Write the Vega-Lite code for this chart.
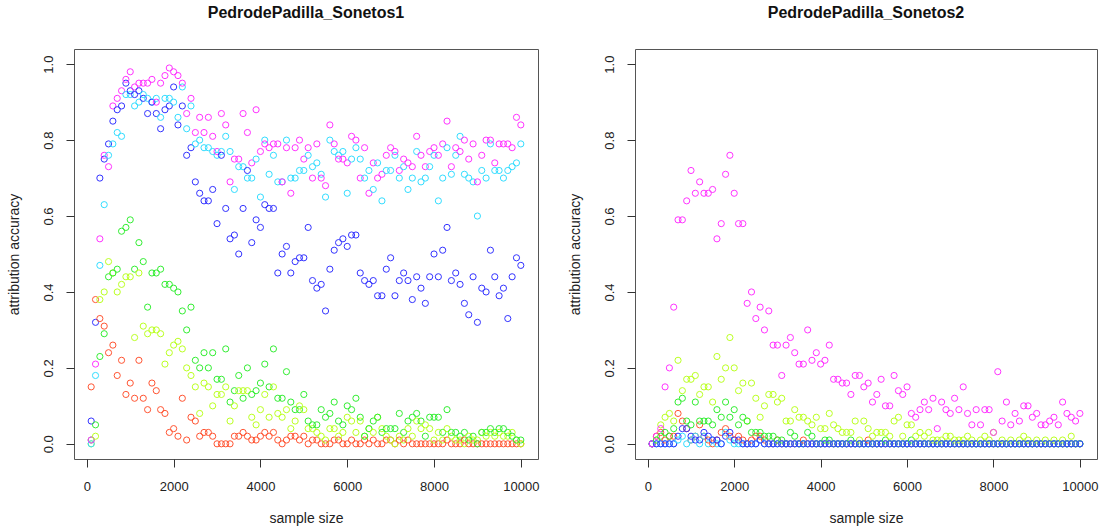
{
"$schema": "https://vega.github.io/schema/vega-lite/v6.json",
"background": "white",
"padding": {"left": 6, "top": 4, "right": 0, "bottom": 0},
"config": {
 "font": "Liberation Sans",
 "view": {"stroke": "#555", "strokeWidth": 1},
 "axis": {"grid": false, "domain": false, "tickColor": "#333", "tickSize": 8, "labelFontSize": 13, "labelColor": "#222", "titleFontSize": 14, "titleFontWeight": "normal", "titleColor": "#222", "labelFont": "Liberation Sans", "titleFont": "Liberation Sans"},
 "title": {"fontSize": 16, "fontWeight": "bold", "font": "Liberation Sans", "color": "#111", "offset": 28},
 "concat": {"spacing": 27}
},
"data": {"values": [
{"p":1,"n":100,"r":0.15,"y":0,"g":0.01,"c":0,"b":0.06,"m":0.01},
{"p":1,"n":200,"r":0.38,"y":0.02,"g":0.05,"c":0.18,"b":0.32,"m":0.21},
{"p":1,"n":300,"r":0.33,"y":0.38,"g":0.23,"c":0.47,"b":0.70,"m":0.54},
{"p":1,"n":400,"r":0.31,"y":0.40,"g":0.29,"c":0.63,"b":0.75,"m":0.76},
{"p":1,"n":500,"r":0.24,"y":0.48,"g":0.44,"c":0.76,"b":0.79,"m":0.73},
{"p":1,"n":600,"r":0.26,"y":0.45,"g":0.45,"c":0.79,"b":0.85,"m":0.89},
{"p":1,"n":700,"r":0.18,"y":0.40,"g":0.46,"c":0.82,"b":0.88,"m":0.91},
{"p":1,"n":800,"r":0.22,"y":0.42,"g":0.56,"c":0.81,"b":0.89,"m":0.93},
{"p":1,"n":900,"r":0.13,"y":0.44,"g":0.57,"c":0.92,"b":0.95,"m":0.96},
{"p":1,"n":1000,"r":0.16,"y":0.44,"g":0.59,"c":0.92,"b":0.93,"m":0.98},
{"p":1,"n":1100,"r":0.12,"y":0.28,"g":0.46,"c":0.89,"b":0.92,"m":0.94},
{"p":1,"n":1200,"r":0.22,"y":0.45,"g":0.53,"c":0.90,"b":0.93,"m":0.95},
{"p":1,"n":1300,"r":0.12,"y":0.31,"g":0.48,"c":0.92,"b":0.91,"m":0.95},
{"p":1,"n":1400,"r":0.09,"y":0.29,"g":0.36,"c":0.91,"b":0.87,"m":0.95},
{"p":1,"n":1500,"r":0.16,"y":0.30,"g":0.45,"c":0.90,"b":0.90,"m":0.96},
{"p":1,"n":1600,"r":0.14,"y":0.30,"g":0.45,"c":0.91,"b":0.87,"m":0.90},
{"p":1,"n":1700,"r":0.09,"y":0.29,"g":0.46,"c":0.86,"b":0.83,"m":0.95},
{"p":1,"n":1800,"r":0.08,"y":0.21,"g":0.42,"c":0.91,"b":0.88,"m":0.97},
{"p":1,"n":1900,"r":0.03,"y":0.24,"g":0.42,"c":0.91,"b":0.89,"m":0.99},
{"p":1,"n":2000,"r":0.04,"y":0.26,"g":0.41,"c":0.90,"b":0.94,"m":0.98},
{"p":1,"n":2100,"r":0.02,"y":0.27,"g":0.40,"c":0.86,"b":0.84,"m":0.97},
{"p":1,"n":2200,"r":0.12,"y":0.25,"g":0.35,"c":0.94,"b":0.89,"m":0.95},
{"p":1,"n":2300,"r":0.01,"y":0.20,"g":0.30,"c":0.83,"b":0.76,"m":0.87},
{"p":1,"n":2400,"r":0.07,"y":0.18,"g":0.36,"c":0.89,"b":0.78,"m":0.91},
{"p":1,"n":2500,"r":0.06,"y":0.15,"g":0.22,"c":0.79,"b":0.69,"m":0.82},
{"p":1,"n":2600,"r":0.02,"y":0.08,"g":0.20,"c":0.80,"b":0.66,"m":0.86},
{"p":1,"n":2700,"r":0.03,"y":0.16,"g":0.24,"c":0.78,"b":0.64,"m":0.82},
{"p":1,"n":2800,"r":0.03,"y":0.15,"g":0.20,"c":0.78,"b":0.64,"m":0.86},
{"p":1,"n":2900,"r":0.02,"y":0.10,"g":0.24,"c":0.77,"b":0.67,"m":0.81},
{"p":1,"n":3000,"r":0,"y":0.13,"g":0.17,"c":0.76,"b":0.58,"m":0.77},
{"p":1,"n":3100,"r":0,"y":0.13,"g":0.17,"c":0.77,"b":0.76,"m":0.87},
{"p":1,"n":3200,"r":0,"y":0.15,"g":0.25,"c":0.81,"b":0.62,"m":0.84},
{"p":1,"n":3300,"r":0,"y":0.06,"g":0.11,"c":0.77,"b":0.54,"m":0.69},
{"p":1,"n":3400,"r":0.02,"y":0.10,"g":0.14,"c":0.67,"b":0.55,"m":0.75},
{"p":1,"n":3500,"r":0.02,"y":0.14,"g":0.18,"c":0.73,"b":0.50,"m":0.75},
{"p":1,"n":3600,"r":0.03,"y":0.14,"g":0.12,"c":0.73,"b":0.62,"m":0.87},
{"p":1,"n":3700,"r":0.02,"y":0.14,"g":0.20,"c":0.70,"b":0.72,"m":0.82},
{"p":1,"n":3800,"r":0.01,"y":0.07,"g":0.13,"c":0.70,"b":0.53,"m":0.74},
{"p":1,"n":3900,"r":0.01,"y":0.05,"g":0.14,"c":0.75,"b":0.59,"m":0.88},
{"p":1,"n":4000,"r":0.02,"y":0.09,"g":0.16,"c":0.65,"b":0.57,"m":0.77},
{"p":1,"n":4100,"r":0.03,"y":0.13,"g":0.21,"c":0.80,"b":0.63,"m":0.79},
{"p":1,"n":4200,"r":0.02,"y":0.07,"g":0.15,"c":0.71,"b":0.62,"m":0.78},
{"p":1,"n":4300,"r":0.03,"y":0.15,"g":0.25,"c":0.76,"b":0.62,"m":0.79},
{"p":1,"n":4400,"r":0.01,"y":0.08,"g":0.12,"c":0.69,"b":0.45,"m":0.79},
{"p":1,"n":4500,"r":0,"y":0.07,"g":0.12,"c":0.69,"b":0.50,"m":0.69},
{"p":1,"n":4600,"r":0.01,"y":0.09,"g":0.19,"c":0.80,"b":0.52,"m":0.78},
{"p":1,"n":4700,"r":0.02,"y":0.04,"g":0.11,"c":0.70,"b":0.45,"m":0.66},
{"p":1,"n":4800,"r":0.02,"y":0.06,"g":0.09,"c":0.70,"b":0.48,"m":0.78},
{"p":1,"n":4900,"r":0.01,"y":0.10,"g":0.09,"c":0.72,"b":0.49,"m":0.80},
{"p":1,"n":5000,"r":0.02,"y":0.09,"g":0.13,"c":0.72,"b":0.49,"m":0.75},
{"p":1,"n":5100,"r":0,"y":0.04,"g":0.06,"c":0.76,"b":0.57,"m":0.78},
{"p":1,"n":5200,"r":0.01,"y":0.04,"g":0.05,"c":0.73,"b":0.43,"m":0.70},
{"p":1,"n":5300,"r":0.01,"y":0.03,"g":0.05,"c":0.74,"b":0.41,"m":0.79},
{"p":1,"n":5400,"r":0,"y":0.02,"g":0.09,"c":0.71,"b":0.42,"m":0.70},
{"p":1,"n":5500,"r":0,"y":0.01,"g":0.07,"c":0.65,"b":0.35,"m":0.68},
{"p":1,"n":5600,"r":0,"y":0.04,"g":0.08,"c":0.80,"b":0.46,"m":0.84},
{"p":1,"n":5700,"r":0.01,"y":0.04,"g":0.11,"c":0.77,"b":0.51,"m":0.79},
{"p":1,"n":5800,"r":0.01,"y":0.02,"g":0.06,"c":0.76,"b":0.53,"m":0.75},
{"p":1,"n":5900,"r":0,"y":0.03,"g":0.05,"c":0.77,"b":0.54,"m":0.75},
{"p":1,"n":6000,"r":0,"y":0.07,"g":0.10,"c":0.66,"b":0.52,"m":0.74},
{"p":1,"n":6100,"r":0.01,"y":0.06,"g":0.09,"c":0.75,"b":0.55,"m":0.81},
{"p":1,"n":6200,"r":0,"y":0.03,"g":0.12,"c":0.78,"b":0.55,"m":0.80},
{"p":1,"n":6300,"r":0,"y":0.06,"g":0.07,"c":0.75,"b":0.45,"m":0.70},
{"p":1,"n":6400,"r":0.01,"y":0.02,"g":0.02,"c":0.70,"b":0.43,"m":0.78},
{"p":1,"n":6500,"r":0,"y":0.04,"g":0.04,"c":0.72,"b":0.42,"m":0.66},
{"p":1,"n":6600,"r":0.01,"y":0.03,"g":0.06,"c":0.67,"b":0.43,"m":0.74},
{"p":1,"n":6700,"r":0,"y":0.07,"g":0.07,"c":0.74,"b":0.39,"m":0.70},
{"p":1,"n":6800,"r":0,"y":0.04,"g":0.03,"c":0.64,"b":0.39,"m":0.71},
{"p":1,"n":6900,"r":0.01,"y":0.02,"g":0.04,"c":0.72,"b":0.46,"m":0.76},
{"p":1,"n":7000,"r":0.01,"y":0.01,"g":0.04,"c":0.72,"b":0.49,"m":0.78},
{"p":1,"n":7100,"r":0,"y":0,"g":0.04,"c":0.76,"b":0.39,"m":0.77},
{"p":1,"n":7200,"r":0.01,"y":0.02,"g":0.08,"c":0.70,"b":0.43,"m":0.72},
{"p":1,"n":7300,"r":0,"y":0.01,"g":0.03,"c":0.73,"b":0.45,"m":0.75},
{"p":1,"n":7400,"r":0.01,"y":0.04,"g":0.06,"c":0.67,"b":0.43,"m":0.74},
{"p":1,"n":7500,"r":0,"y":0.02,"g":0.07,"c":0.70,"b":0.38,"m":0.73},
{"p":1,"n":7600,"r":0,"y":0.06,"g":0.08,"c":0.77,"b":0.44,"m":0.81},
{"p":1,"n":7700,"r":0,"y":0.04,"g":0.06,"c":0.69,"b":0.41,"m":0.76},
{"p":1,"n":7800,"r":0,"y":0.05,"g":0.02,"c":0.70,"b":0.37,"m":0.73},
{"p":1,"n":7900,"r":0,"y":0.04,"g":0.07,"c":0.73,"b":0.44,"m":0.77},
{"p":1,"n":8000,"r":0,"y":0.01,"g":0.07,"c":0.76,"b":0.50,"m":0.78},
{"p":1,"n":8100,"r":0,"y":0.03,"g":0.07,"c":0.64,"b":0.44,"m":0.76},
{"p":1,"n":8200,"r":0,"y":0.01,"g":0.03,"c":0.70,"b":0.51,"m":0.79},
{"p":1,"n":8300,"r":0.01,"y":0.04,"g":0.09,"c":0.78,"b":0.57,"m":0.85},
{"p":1,"n":8400,"r":0,"y":0.02,"g":0.03,"c":0.71,"b":0.43,"m":0.73},
{"p":1,"n":8500,"r":0,"y":0.01,"g":0.03,"c":0.76,"b":0.45,"m":0.78},
{"p":1,"n":8600,"r":0,"y":0.01,"g":0.02,"c":0.81,"b":0.42,"m":0.77},
{"p":1,"n":8700,"r":0.01,"y":0,"g":0.03,"c":0.71,"b":0.37,"m":0.80},
{"p":1,"n":8800,"r":0,"y":0.02,"g":0.01,"c":0.70,"b":0.34,"m":0.75},
{"p":1,"n":8900,"r":0,"y":0.01,"g":0.02,"c":0.69,"b":0.44,"m":0.79},
{"p":1,"n":9000,"r":0,"y":0.01,"g":0,"c":0.60,"b":0.32,"m":0.69},
{"p":1,"n":9100,"r":0,"y":0.03,"g":0.03,"c":0.72,"b":0.41,"m":0.76},
{"p":1,"n":9200,"r":0,"y":0.02,"g":0.03,"c":0.70,"b":0.40,"m":0.80},
{"p":1,"n":9300,"r":0,"y":0.03,"g":0.04,"c":0.79,"b":0.51,"m":0.80},
{"p":1,"n":9400,"r":0,"y":0.02,"g":0.03,"c":0.72,"b":0.44,"m":0.74},
{"p":1,"n":9500,"r":0,"y":0.03,"g":0.04,"c":0.72,"b":0.39,"m":0.79},
{"p":1,"n":9600,"r":0,"y":0.02,"g":0.04,"c":0.70,"b":0.41,"m":0.79},
{"p":1,"n":9700,"r":0,"y":0.02,"g":0.03,"c":0.72,"b":0.33,"m":0.79},
{"p":1,"n":9800,"r":0,"y":0.03,"g":0.02,"c":0.73,"b":0.44,"m":0.78},
{"p":1,"n":9900,"r":0,"y":0.01,"g":0.01,"c":0.74,"b":0.49,"m":0.86},
{"p":1,"n":10000,"r":0,"y":0,"g":0.01,"c":0.79,"b":0.47,"m":0.84},
{"p":2,"n":100,"r":0,"y":0,"g":0,"c":0,"b":0,"m":0},
{"p":2,"n":200,"r":0.02,"y":0.01,"g":0.01,"c":0,"b":0,"m":0.02},
{"p":2,"n":300,"r":0.03,"y":0.05,"g":0.02,"c":0,"b":0,"m":0.04},
{"p":2,"n":400,"r":0.01,"y":0.07,"g":0.03,"c":0,"b":0,"m":0.15},
{"p":2,"n":500,"r":0.02,"y":0.08,"g":0.02,"c":0,"b":0,"m":0.20},
{"p":2,"n":600,"r":0.02,"y":0.06,"g":0.04,"c":0,"b":0,"m":0.36},
{"p":2,"n":700,"r":0.08,"y":0.22,"g":0.11,"c":0.01,"b":0.02,"m":0.59},
{"p":2,"n":800,"r":0.06,"y":0.14,"g":0.12,"c":0.02,"b":0.04,"m":0.59},
{"p":2,"n":900,"r":0.04,"y":0.17,"g":0.06,"c":0,"b":0.04,"m":0.64},
{"p":2,"n":1000,"r":0.01,"y":0.17,"g":0.05,"c":0.01,"b":0.02,"m":0.72},
{"p":2,"n":1100,"r":0.02,"y":0.18,"g":0.11,"c":0.02,"b":0.01,"m":0.66},
{"p":2,"n":1200,"r":0.05,"y":0.13,"g":0.06,"c":0,"b":0.01,"m":0.69},
{"p":2,"n":1300,"r":0.02,"y":0.15,"g":0.06,"c":0.02,"b":0.03,"m":0.66},
{"p":2,"n":1400,"r":0.01,"y":0.15,"g":0.06,"c":0,"b":0.02,"m":0.66},
{"p":2,"n":1500,"r":0,"y":0.11,"g":0.05,"c":0.01,"b":0.01,"m":0.67},
{"p":2,"n":1600,"r":0.01,"y":0.23,"g":0.09,"c":0,"b":0.01,"m":0.54},
{"p":2,"n":1700,"r":0.03,"y":0.17,"g":0.07,"c":0,"b":0,"m":0.58},
{"p":2,"n":1800,"r":0.04,"y":0.20,"g":0.11,"c":0.03,"b":0.02,"m":0.71},
{"p":2,"n":1900,"r":0.02,"y":0.28,"g":0.07,"c":0.01,"b":0.03,"m":0.76},
{"p":2,"n":2000,"r":0.01,"y":0.20,"g":0.09,"c":0,"b":0.01,"m":0.66},
{"p":2,"n":2100,"r":0.02,"y":0.14,"g":0.05,"c":0,"b":0.01,"m":0.58},
{"p":2,"n":2200,"r":0.01,"y":0.16,"g":0.07,"c":0,"b":0,"m":0.58},
{"p":2,"n":2300,"r":0,"y":0.06,"g":0.06,"c":0,"b":0,"m":0.37},
{"p":2,"n":2400,"r":0.01,"y":0.16,"g":0.03,"c":0,"b":0,"m":0.40},
{"p":2,"n":2500,"r":0.02,"y":0.12,"g":0.03,"c":0,"b":0,"m":0.33},
{"p":2,"n":2600,"r":0.02,"y":0.07,"g":0.03,"c":0.01,"b":0.01,"m":0.36},
{"p":2,"n":2700,"r":0.01,"y":0.10,"g":0.02,"c":0,"b":0,"m":0.30},
{"p":2,"n":2800,"r":0,"y":0.13,"g":0.02,"c":0,"b":0,"m":0.35},
{"p":2,"n":2900,"r":0,"y":0.13,"g":0.02,"c":0,"b":0,"m":0.26},
{"p":2,"n":3000,"r":0.01,"y":0.11,"g":0.01,"c":0,"b":0,"m":0.26},
{"p":2,"n":3100,"r":0,"y":0.12,"g":0.01,"c":0,"b":0,"m":0.18},
{"p":2,"n":3200,"r":0,"y":0.06,"g":0,"c":0,"b":0,"m":0.26},
{"p":2,"n":3300,"r":0,"y":0.06,"g":0.03,"c":0,"b":0,"m":0.28},
{"p":2,"n":3400,"r":0,"y":0.09,"g":0.02,"c":0,"b":0,"m":0.24},
{"p":2,"n":3500,"r":0,"y":0.07,"g":0,"c":0,"b":0,"m":0.21},
{"p":2,"n":3600,"r":0.01,"y":0.07,"g":0,"c":0,"b":0,"m":0.21},
{"p":2,"n":3700,"r":0,"y":0.06,"g":0.03,"c":0,"b":0,"m":0.30},
{"p":2,"n":3800,"r":0,"y":0.05,"g":0.02,"c":0,"b":0,"m":0.22},
{"p":2,"n":3900,"r":0,"y":0.07,"g":0,"c":0,"b":0,"m":0.24},
{"p":2,"n":4000,"r":0,"y":0.04,"g":0,"c":0,"b":0,"m":0.21},
{"p":2,"n":4100,"r":0,"y":0.04,"g":0.01,"c":0,"b":0,"m":0.22},
{"p":2,"n":4200,"r":0,"y":0.08,"g":0.01,"c":0,"b":0,"m":0.26},
{"p":2,"n":4300,"r":0,"y":0.05,"g":0,"c":0,"b":0,"m":0.17},
{"p":2,"n":4400,"r":0,"y":0.04,"g":0,"c":0,"b":0,"m":0.17},
{"p":2,"n":4500,"r":0,"y":0.03,"g":0,"c":0,"b":0,"m":0.16},
{"p":2,"n":4600,"r":0,"y":0.03,"g":0,"c":0,"b":0,"m":0.16},
{"p":2,"n":4700,"r":0,"y":0.03,"g":0.01,"c":0,"b":0,"m":0.13},
{"p":2,"n":4800,"r":0,"y":0.06,"g":0,"c":0,"b":0,"m":0.18},
{"p":2,"n":4900,"r":0,"y":0.01,"g":0,"c":0,"b":0,"m":0.18},
{"p":2,"n":5000,"r":0,"y":0.06,"g":0,"c":0,"b":0,"m":0.15},
{"p":2,"n":5100,"r":0.01,"y":0.04,"g":0,"c":0,"b":0,"m":0.16},
{"p":2,"n":5200,"r":0,"y":0.02,"g":0,"c":0,"b":0,"m":0.11},
{"p":2,"n":5300,"r":0,"y":0.03,"g":0,"c":0,"b":0,"m":0.13},
{"p":2,"n":5400,"r":0,"y":0.03,"g":0,"c":0,"b":0,"m":0.17},
{"p":2,"n":5500,"r":0,"y":0.03,"g":0.01,"c":0,"b":0,"m":0.10},
{"p":2,"n":5600,"r":0,"y":0.02,"g":0,"c":0,"b":0,"m":0.10},
{"p":2,"n":5700,"r":0,"y":0.06,"g":0,"c":0,"b":0,"m":0.18},
{"p":2,"n":5800,"r":0,"y":0.07,"g":0,"c":0,"b":0,"m":0.14},
{"p":2,"n":5900,"r":0,"y":0.02,"g":0,"c":0,"b":0,"m":0.13},
{"p":2,"n":6000,"r":0,"y":0.05,"g":0,"c":0,"b":0,"m":0.15},
{"p":2,"n":6100,"r":0,"y":0.05,"g":0.01,"c":0,"b":0,"m":0.08},
{"p":2,"n":6200,"r":0,"y":0.02,"g":0,"c":0,"b":0,"m":0.07},
{"p":2,"n":6300,"r":0,"y":0.03,"g":0,"c":0,"b":0,"m":0.09},
{"p":2,"n":6400,"r":0,"y":0.02,"g":0,"c":0,"b":0,"m":0.11},
{"p":2,"n":6500,"r":0,"y":0.03,"g":0,"c":0,"b":0,"m":0.09},
{"p":2,"n":6600,"r":0,"y":0.01,"g":0,"c":0,"b":0,"m":0.12},
{"p":2,"n":6700,"r":0,"y":0.01,"g":0,"c":0,"b":0,"m":0.04},
{"p":2,"n":6800,"r":0,"y":0.01,"g":0,"c":0,"b":0,"m":0.11},
{"p":2,"n":6900,"r":0,"y":0.02,"g":0,"c":0,"b":0,"m":0.09},
{"p":2,"n":7000,"r":0,"y":0.02,"g":0,"c":0,"b":0,"m":0.08},
{"p":2,"n":7100,"r":0,"y":0.01,"g":0,"c":0,"b":0,"m":0.12},
{"p":2,"n":7200,"r":0,"y":0.01,"g":0,"c":0,"b":0,"m":0.09},
{"p":2,"n":7300,"r":0,"y":0.01,"g":0,"c":0,"b":0,"m":0.15},
{"p":2,"n":7400,"r":0,"y":0.02,"g":0,"c":0,"b":0,"m":0.08},
{"p":2,"n":7500,"r":0,"y":0.01,"g":0,"c":0,"b":0,"m":0.05},
{"p":2,"n":7600,"r":0,"y":0,"g":0,"c":0,"b":0,"m":0.09},
{"p":2,"n":7700,"r":0,"y":0.01,"g":0,"c":0,"b":0,"m":0.05},
{"p":2,"n":7800,"r":0,"y":0.02,"g":0,"c":0,"b":0,"m":0.09},
{"p":2,"n":7900,"r":0,"y":0.01,"g":0,"c":0,"b":0,"m":0.09},
{"p":2,"n":8000,"r":0,"y":0.03,"g":0,"c":0,"b":0,"m":0.03},
{"p":2,"n":8100,"r":0,"y":0,"g":0,"c":0,"b":0,"m":0.19},
{"p":2,"n":8200,"r":0,"y":0.01,"g":0,"c":0,"b":0,"m":0.06},
{"p":2,"n":8300,"r":0,"y":0,"g":0,"c":0,"b":0,"m":0.11},
{"p":2,"n":8400,"r":0,"y":0.01,"g":0,"c":0,"b":0,"m":0.05},
{"p":2,"n":8500,"r":0,"y":0,"g":0,"c":0,"b":0,"m":0.08},
{"p":2,"n":8600,"r":0,"y":0.01,"g":0,"c":0,"b":0,"m":0.06},
{"p":2,"n":8700,"r":0,"y":0.02,"g":0,"c":0,"b":0,"m":0.10},
{"p":2,"n":8800,"r":0,"y":0.01,"g":0,"c":0,"b":0,"m":0.10},
{"p":2,"n":8900,"r":0,"y":0,"g":0,"c":0,"b":0,"m":0.07},
{"p":2,"n":9000,"r":0,"y":0.01,"g":0,"c":0,"b":0,"m":0.08},
{"p":2,"n":9100,"r":0,"y":0,"g":0,"c":0,"b":0,"m":0.05},
{"p":2,"n":9200,"r":0,"y":0.01,"g":0,"c":0,"b":0,"m":0.05},
{"p":2,"n":9300,"r":0,"y":0,"g":0,"c":0,"b":0,"m":0.06},
{"p":2,"n":9400,"r":0,"y":0.01,"g":0,"c":0,"b":0,"m":0.07},
{"p":2,"n":9500,"r":0,"y":0,"g":0,"c":0,"b":0,"m":0.05},
{"p":2,"n":9600,"r":0,"y":0.01,"g":0,"c":0,"b":0,"m":0.11},
{"p":2,"n":9700,"r":0,"y":0,"g":0,"c":0,"b":0,"m":0.08},
{"p":2,"n":9800,"r":0,"y":0.02,"g":0,"c":0,"b":0,"m":0.07},
{"p":2,"n":9900,"r":0,"y":0,"g":0,"c":0,"b":0,"m":0.06},
{"p":2,"n":10000,"r":0,"y":0,"g":0,"c":0,"b":0,"m":0.08}
]},
"hconcat": [
{
 "width": 464, "height": 410,
 "title": "PedrodePadilla_Sonetos1",
 "transform": [{"filter": "datum.p == 1"}, {"fold": ["r","y","g","c","b","m"], "as": ["s","v"]}],
 "mark": {"type": "point", "shape": "circle", "filled": false, "size": 38, "strokeWidth": 1, "opacity": 1},
 "encoding": {
  "x": {"field": "n", "type": "quantitative", "scale": {"domain": [-296, 10396], "nice": false, "zero": false}, "axis": {"values": [0,2000,4000,6000,8000,10000], "format": "d", "title": "sample size", "labelPadding": 13, "titlePadding": 18}},
  "y": {"field": "v", "type": "quantitative", "scale": {"domain": [-0.04, 1.04], "nice": false, "zero": false}, "axis": {"values": [0,0.2,0.4,0.6,0.8,1], "format": ".1f", "labelAngle": -90, "title": "attribution accuracy", "labelPadding": 11, "titlePadding": 21}},
  "color": {"field": "s", "type": "nominal", "scale": {"domain": ["r","y","g","c","b","m"], "range": ["#ff5533","#bbff22","#33ee33","#33ddff","#3333ff","#ff33ff"]}, "legend": null}
 }
},
{
 "width": 462, "height": 410,
 "title": "PedrodePadilla_Sonetos2",
 "transform": [{"filter": "datum.p == 2"}, {"fold": ["r","y","g","c","b","m"], "as": ["s","v"]}],
 "mark": {"type": "point", "shape": "circle", "filled": false, "size": 38, "strokeWidth": 1, "opacity": 1},
 "encoding": {
  "x": {"field": "n", "type": "quantitative", "scale": {"domain": [-296, 10396], "nice": false, "zero": false}, "axis": {"values": [0,2000,4000,6000,8000,10000], "format": "d", "title": "sample size", "labelPadding": 13, "titlePadding": 18}},
  "y": {"field": "v", "type": "quantitative", "scale": {"domain": [-0.04, 1.04], "nice": false, "zero": false}, "axis": {"values": [0,0.2,0.4,0.6,0.8,1], "format": ".1f", "labelAngle": -90, "title": "attribution accuracy", "labelPadding": 11, "titlePadding": 21}},
  "color": {"field": "s", "type": "nominal", "scale": {"domain": ["r","y","g","c","b","m"], "range": ["#ff5533","#bbff22","#33ee33","#33ddff","#3333ff","#ff33ff"]}, "legend": null}
 }
}
]
}
